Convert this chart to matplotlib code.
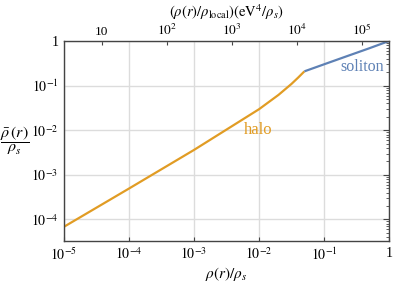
import matplotlib
matplotlib.use("Agg")
import matplotlib.pyplot as plt

plt.rcParams['font.family'] = ['Liberation Serif', 'DejaVu Serif']
plt.rcParams['mathtext.fontset'] = 'stix'

# data
halo_x = [1e-5, 1e-4, 1e-3, 1e-2, 0.02, 0.0316, 0.04, 0.05]
halo_y = [6.8e-5, 4.9e-4, 3.6e-3, 0.0295, 0.062, 0.109, 0.151, 0.209]
soliton_x = [0.05, 0.1, 0.2, 0.5, 1.0]
soliton_y = [0.209, 0.30, 0.43, 0.69, 1.0]

bottom_ticks = [1e-5, 1e-4, 1e-3, 1e-2, 1e-1, 1]
bottom_labels = [r'$10^{-5}$', r'$10^{-4}$', r'$10^{-3}$', r'$10^{-2}$', r'$10^{-1}$', '1']
left_ticks = [1e-4, 1e-3, 1e-2, 1e-1, 1]
left_labels = [r'$10^{-4}$', r'$10^{-3}$', r'$10^{-2}$', r'$10^{-1}$', '1']
top_ticks = [10, 1e2, 1e3, 1e4, 1e5]
top_labels = ['10', r'$10^{2}$', r'$10^{3}$', r'$10^{4}$', r'$10^{5}$']
top_factor = 2.6e5  # top axis = bottom axis * factor

orange = '#E19C24'
blue = '#5E81B5'
spine_col = '#444444'

fig = plt.figure(figsize=(3.99, 2.81), dpi=100)
ax = fig.add_axes([0.160, 0.142, 0.815, 0.712])

ax.plot(halo_x, halo_y, color=orange, lw=1.6, solid_capstyle='butt')
ax.plot(soliton_x, soliton_y, color=blue, lw=1.6, solid_capstyle='butt')

ax.set_xscale('log')
ax.set_yscale('log')
ax.set_xlim(1e-5, 1)
ax.set_ylim(3.26e-5, 1)

ax.set_xticks(bottom_ticks)
ax.set_xticklabels(bottom_labels)
ax.set_yticks(left_ticks)
ax.set_yticklabels(left_labels)
ax.minorticks_off()
ax.grid(True, color='#dcdcdc', lw=1.0)
ax.set_axisbelow(True)

ax.tick_params(axis='x', which='major', direction='in', length=3, width=0.8,
               color=spine_col, labelsize=10, pad=4, top=False)
ax.tick_params(axis='y', which='major', direction='in', length=0, labelsize=10,
               pad=4, left=True)
for sp in ax.spines.values():
    sp.set_color(spine_col)
    sp.set_linewidth(1.0)

# right spine ticks (log minor) via twin axis
axr = ax.twinx()
axr.set_yscale('log')
axr.set_ylim(ax.get_ylim())
axr.tick_params(axis='y', which='both', direction='in', labelright=False,
                color=spine_col)
axr.tick_params(axis='y', which='major', length=4, width=0.8)
axr.tick_params(axis='y', which='minor', length=2, width=0.6)
for sp in axr.spines.values():
    sp.set_visible(False)

# top axis
top = ax.secondary_xaxis('top', functions=(lambda v: v * top_factor,
                                           lambda v: v / top_factor))
top.set_xticks(top_ticks)
top.set_xticklabels(top_labels)
top.minorticks_off()
top.tick_params(direction='in', length=3, width=0.8, color=spine_col,
                labelsize=9.5, pad=2)
top.spines['top'].set_visible(False)
top.set_xlabel(r'$(\rho(r)/\rho_{\rm local})({\rm eV}^4/\rho_s)$', fontsize=10.5, labelpad=4)

ax.set_xlabel(r'$\rho(r)/\rho_s$', fontsize=11, labelpad=1)
fig.text(0.038, 0.500, r'$\dfrac{\bar{\rho}\,(r)}{\rho_s}$', fontsize=11.5,
         ha='center', va='center')

ax.text(0.0097, 0.0100, 'halo', color=orange, fontsize=12, ha='center', va='center')
ax.text(0.385, 0.26, 'soliton', color=blue, fontsize=11.5, ha='center', va='center')

fig.savefig('out.png', dpi=100)
